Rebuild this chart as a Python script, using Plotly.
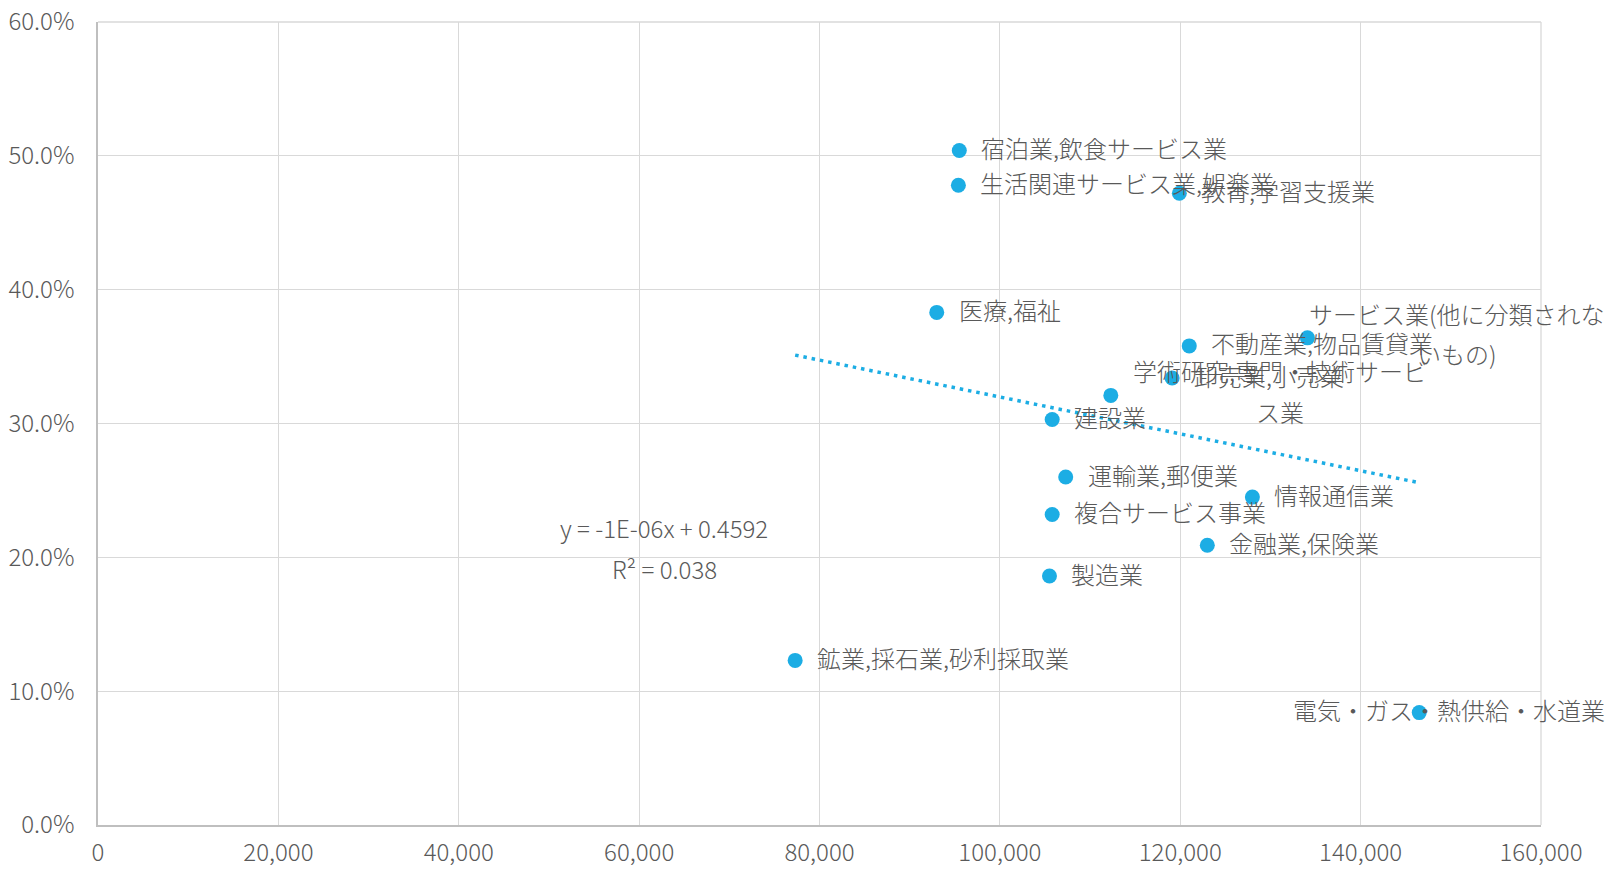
import numpy as np
import plotly.graph_objects as go

# 産業別: 平均年収 (x) と 比率 (y)
industries = [
    "宿泊業,飲食サービス業",
    "生活関連サービス業,娯楽業",
    "教育,学習支援業",
    "医療,福祉",
    "サービス業(他に分類されないもの)",
    "不動産業,物品賃貸業",
    "卸売業,小売業",
    "学術研究,専門・技術サービス業",
    "建設業",
    "運輸業,郵便業",
    "情報通信業",
    "複合サービス事業",
    "金融業,保険業",
    "製造業",
    "鉱業,採石業,砂利採取業",
    "電気・ガス・熱供給・水道業",
]
avg_income = [95500, 95400, 119900, 93000, 134100, 121000, 119100, 112300,
              105800, 107300, 128000, 105800, 123000, 105500, 77300, 146500]
ratio = [0.504, 0.478, 0.472, 0.383, 0.364, 0.358, 0.334, 0.321,
         0.303, 0.260, 0.245, 0.232, 0.209, 0.186, 0.123, 0.084]

trend_label = ["y = -1E-06x + 0.4592", "R² = 0.038"]

x_ticks = list(range(0, 160001, 20000))
y_ticks = [0.0, 0.1, 0.2, 0.3, 0.4, 0.5, 0.6]

BLUE = "#1CADE4"
GREY = "#595959"
FONT = "Noto Sans CJK JP"
FS = 24

# linear trendline (least squares)
xa = np.array(avg_income, dtype=float)
ya = np.array(ratio, dtype=float)
slope, intercept = np.polyfit(xa, ya, 1)
tx = np.array([xa.min(), xa.max()])
ty = slope * tx + intercept

fig = go.Figure()

fig.add_trace(go.Scatter(
    x=tx, y=ty, mode="lines",
    line=dict(color=BLUE, width=3.5, dash="3.5px,4.9px"),
    hoverinfo="skip", showlegend=False,
))

fig.add_trace(go.Scatter(
    x=avg_income, y=ratio, mode="markers",
    marker=dict(color=BLUE, size=15, line=dict(width=0)),
    text=industries, hoverinfo="text", showlegend=False,
))

# label placement: (split position or None, xanchor, xshift, line yshifts)
label_style = {
    4: (13, "center", 150, [24, -16]),
    7: (13, "center", 169, [25, -16]),
    15: (None, "right", 188, [3]),
}

annotations = []
for i, (name, xv, yv) in enumerate(zip(industries, avg_income, ratio)):
    split, anchor, xs, yss = label_style.get(i, (None, "left", 20, [3]))
    lines = [name] if split is None else [name[:split], name[split:]]
    for line, ys in zip(lines, yss):
        annotations.append(dict(
            x=xv, y=yv, xref="x", yref="y", text=line, showarrow=False,
            xanchor=anchor, yanchor="middle", xshift=xs, yshift=ys,
            font=dict(family=FONT, size=FS, color=GREY, weight=300),
        ))

# trendline equation
for line, yv in zip(trend_label, [0.2225, 0.1915]):
    annotations.append(dict(
        x=62800, y=yv, xref="x", yref="y", text=line, showarrow=False,
        xanchor="center", yanchor="middle",
        font=dict(family=FONT, size=FS, color=GREY, weight=300),
    ))

axis_common = dict(
    showgrid=True, gridcolor="#D9D9D9", gridwidth=1.3,
    showline=True, linecolor="#BFBFBF", linewidth=1.5,
    zeroline=False, ticks="", automargin=False,
    tickfont=dict(family=FONT, size=FS, color=GREY, weight=300),
)

fig.update_layout(
    width=1619, height=869,
    margin=dict(l=98, r=78, t=22, b=44),
    paper_bgcolor="white", plot_bgcolor="white",
    annotations=annotations,
    xaxis=dict(range=[0, 160000], tickvals=x_ticks, tickformat=",d",
               ticklabelstandoff=5, **axis_common),
    yaxis=dict(range=[0, 0.6], tickvals=y_ticks, tickformat=".1%",
               ticklabelstandoff=17, **axis_common),
    font=dict(family=FONT, color=GREY),
)

# outer border on the top and right edges of the plot area
fig.add_shape(type="line", xref="paper", yref="paper", x0=0, x1=1, y0=1, y1=1,
              line=dict(color="#D9D9D9", width=1.3), layer="below")
fig.add_shape(type="line", xref="paper", yref="paper", x0=1, x1=1, y0=0, y1=1,
              line=dict(color="#D9D9D9", width=1.3), layer="below")

fig.write_html("out.html")
